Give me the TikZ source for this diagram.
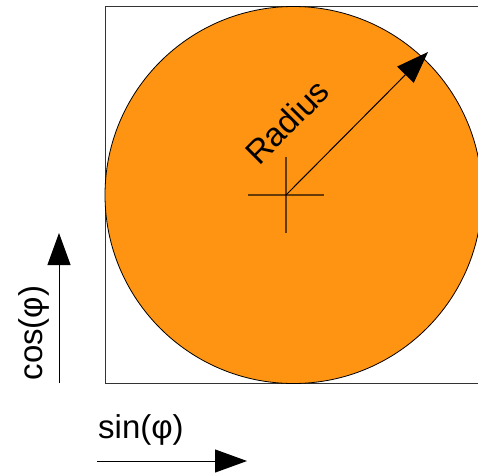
\documentclass[tikz,border=0pt]{standalone}
\usepackage{fontspec}
\setmainfont{Liberation Sans}
\usetikzlibrary{arrows.meta}
\definecolor{disc}{RGB}{255,148,18}
\begin{document}
\begin{tikzpicture}[x=1pt,y=-1pt,
  bigarrow/.style={line width=1pt,-{Triangle[length=32pt,width=23pt]}},
  lbl/.style={font=\fontsize{33}{34}\selectfont,inner sep=0pt},
  cross/.style={line width=1.2pt,draw=black,draw opacity=0.6}]
\useasboundingbox (0,0) rectangle (478,472);
\clip (0,0) rectangle (478,472);
\node[draw=black!80,line width=1pt,minimum size=377pt,inner sep=0pt,anchor=north west] (sq) at (104.5,6) {};
\node[circle,draw=black,line width=0.8pt,fill=disc,minimum size=377pt,inner sep=0pt] (disc) at (sq.center) {};
\coordinate (c) at (286,195);
\coordinate (cl) at (248,195);
\coordinate (cr) at (324,195);
\coordinate (ct) at (286,157);
\coordinate (cb) at (286,233);
\draw[cross] (cl) -- (cr);
\draw[cross] (ct) -- (cb);
\coordinate (rt) at (428,52);
\draw[bigarrow] (c) -- (rt);
\node[lbl,rotate=45] (rad) at (287,122) {Radius};
\coordinate (ya) at (59,383);
\coordinate (yb) at (59,233);
\draw[bigarrow] (ya) -- (yb);
\node[lbl,rotate=90,anchor=base] (cos) at (42,333) {cos(φ)};
\coordinate (xa) at (97,461);
\coordinate (xb) at (247,461);
\draw[bigarrow] (xa) -- (xb);
\node[lbl,anchor=base west] (sin) at (98,438) {sin(φ)};
\end{tikzpicture}
\end{document}
